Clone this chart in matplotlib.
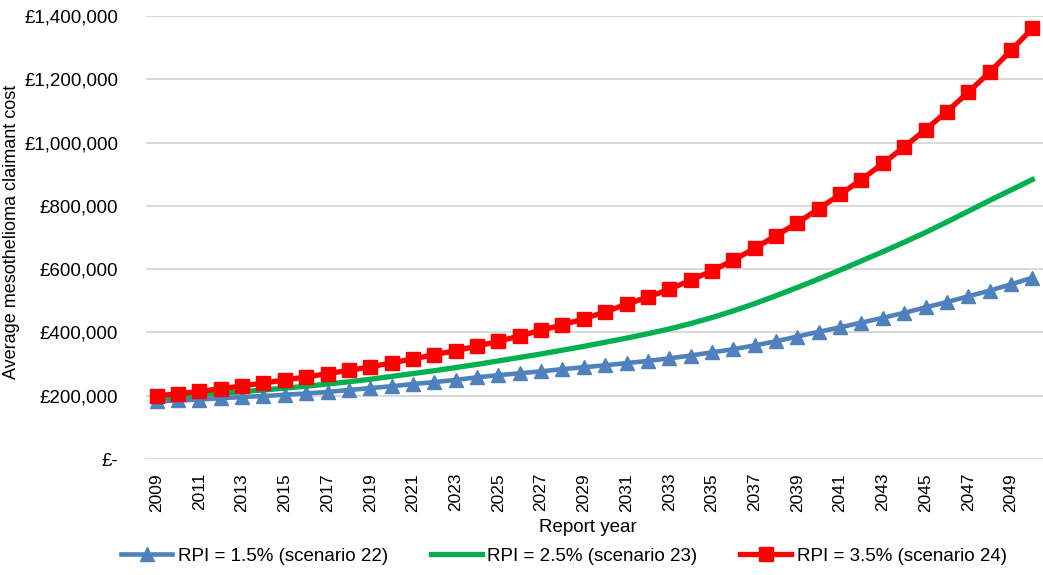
import matplotlib.pyplot as plt
from matplotlib.ticker import FuncFormatter

plt.rcParams['font.family'] = ['Liberation Sans', 'DejaVu Sans']

# Anni di riferimento
years = list(range(2009, 2051))

# Costo medio per scenario (in sterline)
rpi_15 = [182000, 185000, 188000, 192000, 196000, 199000, 203000, 207000, 212000, 218000,
          224000, 230000, 237000, 243000, 250000, 258000, 265000, 271000, 277000, 284000,
          290000, 296000, 303000, 310000, 318000, 327000, 337000, 347000, 359000, 372000,
          387000, 402000, 416000, 431000, 446000, 462000, 479000, 496000, 514000, 532000,
          552000, 573000]
rpi_25 = [193000, 198000, 203000, 208000, 213000, 218000, 224000, 230000, 237000, 244000,
          252000, 261000, 270000, 279000, 289000, 299000, 310000, 321000, 332000, 344000,
          356000, 369000, 382000, 396000, 411000, 428000, 447000, 468000, 491000, 516000,
          542000, 569000, 597000, 626000, 655000, 685000, 716000, 749000, 783000, 817000,
          850000, 883000]
rpi_35 = [200000, 206000, 214000, 222000, 231000, 240000, 250000, 259000, 270000, 280000,
          291000, 304000, 316000, 330000, 342000, 357000, 372000, 389000, 407000, 424000,
          443000, 465000, 489000, 512000, 536000, 565000, 595000, 628000, 666000, 706000,
          746000, 791000, 836000, 883000, 934000, 986000, 1041000, 1098000, 1159000, 1222000,
          1291000, 1361000]

labels = ["RPI = 1.5% (scenario 22)", "RPI = 2.5% (scenario 23)", "RPI = 3.5% (scenario 24)"]

fig = plt.figure(figsize=(10.43, 5.75), dpi=100)
ax = fig.add_axes([146 / 1043, 1 - 459 / 575, 897 / 1043, 443 / 575])

x = list(range(len(years)))
ax.plot(x, rpi_15, color="#4F81BD", linewidth=3.3, marker="^", markersize=10, label=labels[0])
ax.plot(x, rpi_25, color="#00B050", linewidth=3.8, label=labels[1])
ax.plot(x, rpi_35, color="#FF0000", linewidth=3.8, marker="s", markersize=10.5, label=labels[2])

ax.set_xlim(-0.5, len(years) - 0.5)
ax.set_ylim(0, 1400000)
ax.set_yticks(range(0, 1400001, 200000))
ax.yaxis.set_major_formatter(FuncFormatter(lambda v, p: "£-" if v == 0 else f"£{v:,.0f}"))
ax.set_xticks(x[::2])
ax.set_xticklabels([str(y) for y in years[::2]], rotation=90)

ax.grid(axis="y", color="#D9D9D9", linewidth=1.4)
ax.set_axisbelow(True)
for s in ax.spines.values():
    s.set_visible(False)
ax.tick_params(axis="y", length=0, labelsize=13.5, pad=20)
ax.tick_params(axis="x", length=0, labelsize=12.5, pad=10)

fig.text(12 / 1043, 1 - 232 / 575, "Average mesothelioma claimant cost", rotation=90,
         ha="center", va="center", fontsize=13)
fig.text(588 / 1043, 1 - 528 / 575, "Report year", ha="center", va="center", fontsize=13.5)

fig.legend(loc="center", bbox_to_anchor=(564 / 1043, 1 - 556 / 575), ncol=3, frameon=False,
           fontsize=13.5, handlelength=2.7, handletextpad=0.3, columnspacing=2.3)

plt.savefig("out.png", dpi=100)
